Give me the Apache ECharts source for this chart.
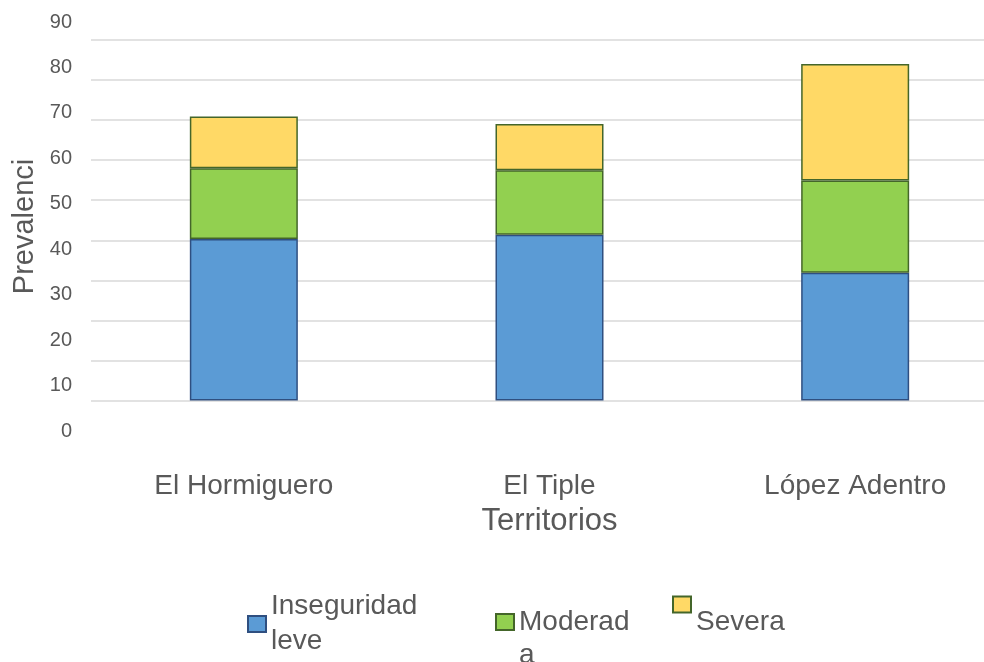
<!DOCTYPE html>
<html>
<head>
<meta charset="utf-8">
<script src="https://cdn.jsdelivr.net/npm/echarts@6/dist/echarts.min.js"></script>
<style>
html,body{margin:0;padding:0;background:#fff;}
#chart{width:984px;height:662px;}
</style>
</head>
<body>
<div id="chart"></div>
<script>
const categories = ['El Hormiguero', 'El Tiple', 'López Adentro'];
const seriesNames = ['Inseguridad leve', 'Moderada', 'Severa'];
const leve = [40.3, 41.4, 31.9];
const moderada = [17.7, 16.1, 23.0];
const severa = [12.9, 11.5, 29.1];
const yTicks = { min: 0, max: 90, interval: 10 };
const xTitle = 'Territorios';
const yTitle = 'Prevalenci';

const FONT = '"Liberation Sans", Arial, sans-serif';
const TXT = '#595959';
const colors = ['#5B9BD5', '#92D050', '#FFD966'];
const borders = ['#2F4F80', '#44662A', '#44662A'];

const chart = echarts.init(document.getElementById('chart'), null, { renderer: 'canvas' });

function legendCfg(name, left, top, label, gap, lh) {
  return {
    data: [name],
    left: left,
    top: top,
    orient: 'horizontal',
    selectedMode: false,
    icon: 'rect',
    itemWidth: 18,
    itemHeight: 16,
    itemGap: 0,
    padding: 0,
    textGap: gap,
    formatter: function () { return label; },
    textStyle: { fontFamily: FONT, fontSize: 28, color: TXT, lineHeight: lh }
  };
}

const datasets = [leve, moderada, severa];

chart.setOption({
  animation: false,
  backgroundColor: '#ffffff',
  textStyle: { fontFamily: FONT },
  grid: [
    { left: 91, width: 917, top: 40, bottom: 261.5, containLabel: false, outerBoundsMode: 'none' },
    { left: 80, width: 1, top: 22, bottom: 231, containLabel: false, outerBoundsMode: 'none' }
  ],
  xAxis: [
    {
      type: 'category', gridIndex: 0, data: categories,
      axisLine: { show: false }, axisTick: { show: false },
      axisLabel: { fontFamily: FONT, fontSize: 28, color: TXT, margin: 72 },
      name: xTitle, nameLocation: 'middle', nameGap: 105,
      nameTextStyle: { fontFamily: FONT, fontSize: 31, color: TXT }
    },
    { type: 'category', gridIndex: 1, data: [''], show: false }
  ],
  yAxis: [
    {
      type: 'value', gridIndex: 0, min: yTicks.min, max: yTicks.max, interval: yTicks.interval,
      axisLabel: { show: false }, axisLine: { show: false }, axisTick: { show: false },
      splitLine: { show: true, lineStyle: { color: '#D9D9D9', width: 1.5 } }
    },
    {
      type: 'value', gridIndex: 1, min: yTicks.min, max: yTicks.max, interval: yTicks.interval,
      axisLabel: { fontFamily: FONT, fontSize: 20, color: TXT, margin: 8 },
      axisLine: { show: false }, axisTick: { show: false }, splitLine: { show: false },
      name: yTitle, nameLocation: 'middle', nameRotate: 90, nameGap: 41,
      nameTextStyle: { fontFamily: FONT, fontSize: 29, color: TXT }
    }
  ],
  legend: [
    legendCfg(seriesNames[0], 247, 589, 'Inseguridad\nleve', 5, 35),
    legendCfg(seriesNames[1], 495, 572.5, '\nModerad\na', 1, 33),
    legendCfg(seriesNames[2], 672, 569.5, '\nSevera', 5, 35)
  ],
  series: datasets.map(function (d, i) {
    return {
      name: seriesNames[i], type: 'bar', stack: 'total',
      xAxisIndex: 0, yAxisIndex: 0, barWidth: 108,
      data: d,
      itemStyle: { color: colors[i], borderColor: borders[i], borderWidth: 1.5 },
      emphasis: { disabled: true }
    };
  })
});
</script>
</body>
</html>
